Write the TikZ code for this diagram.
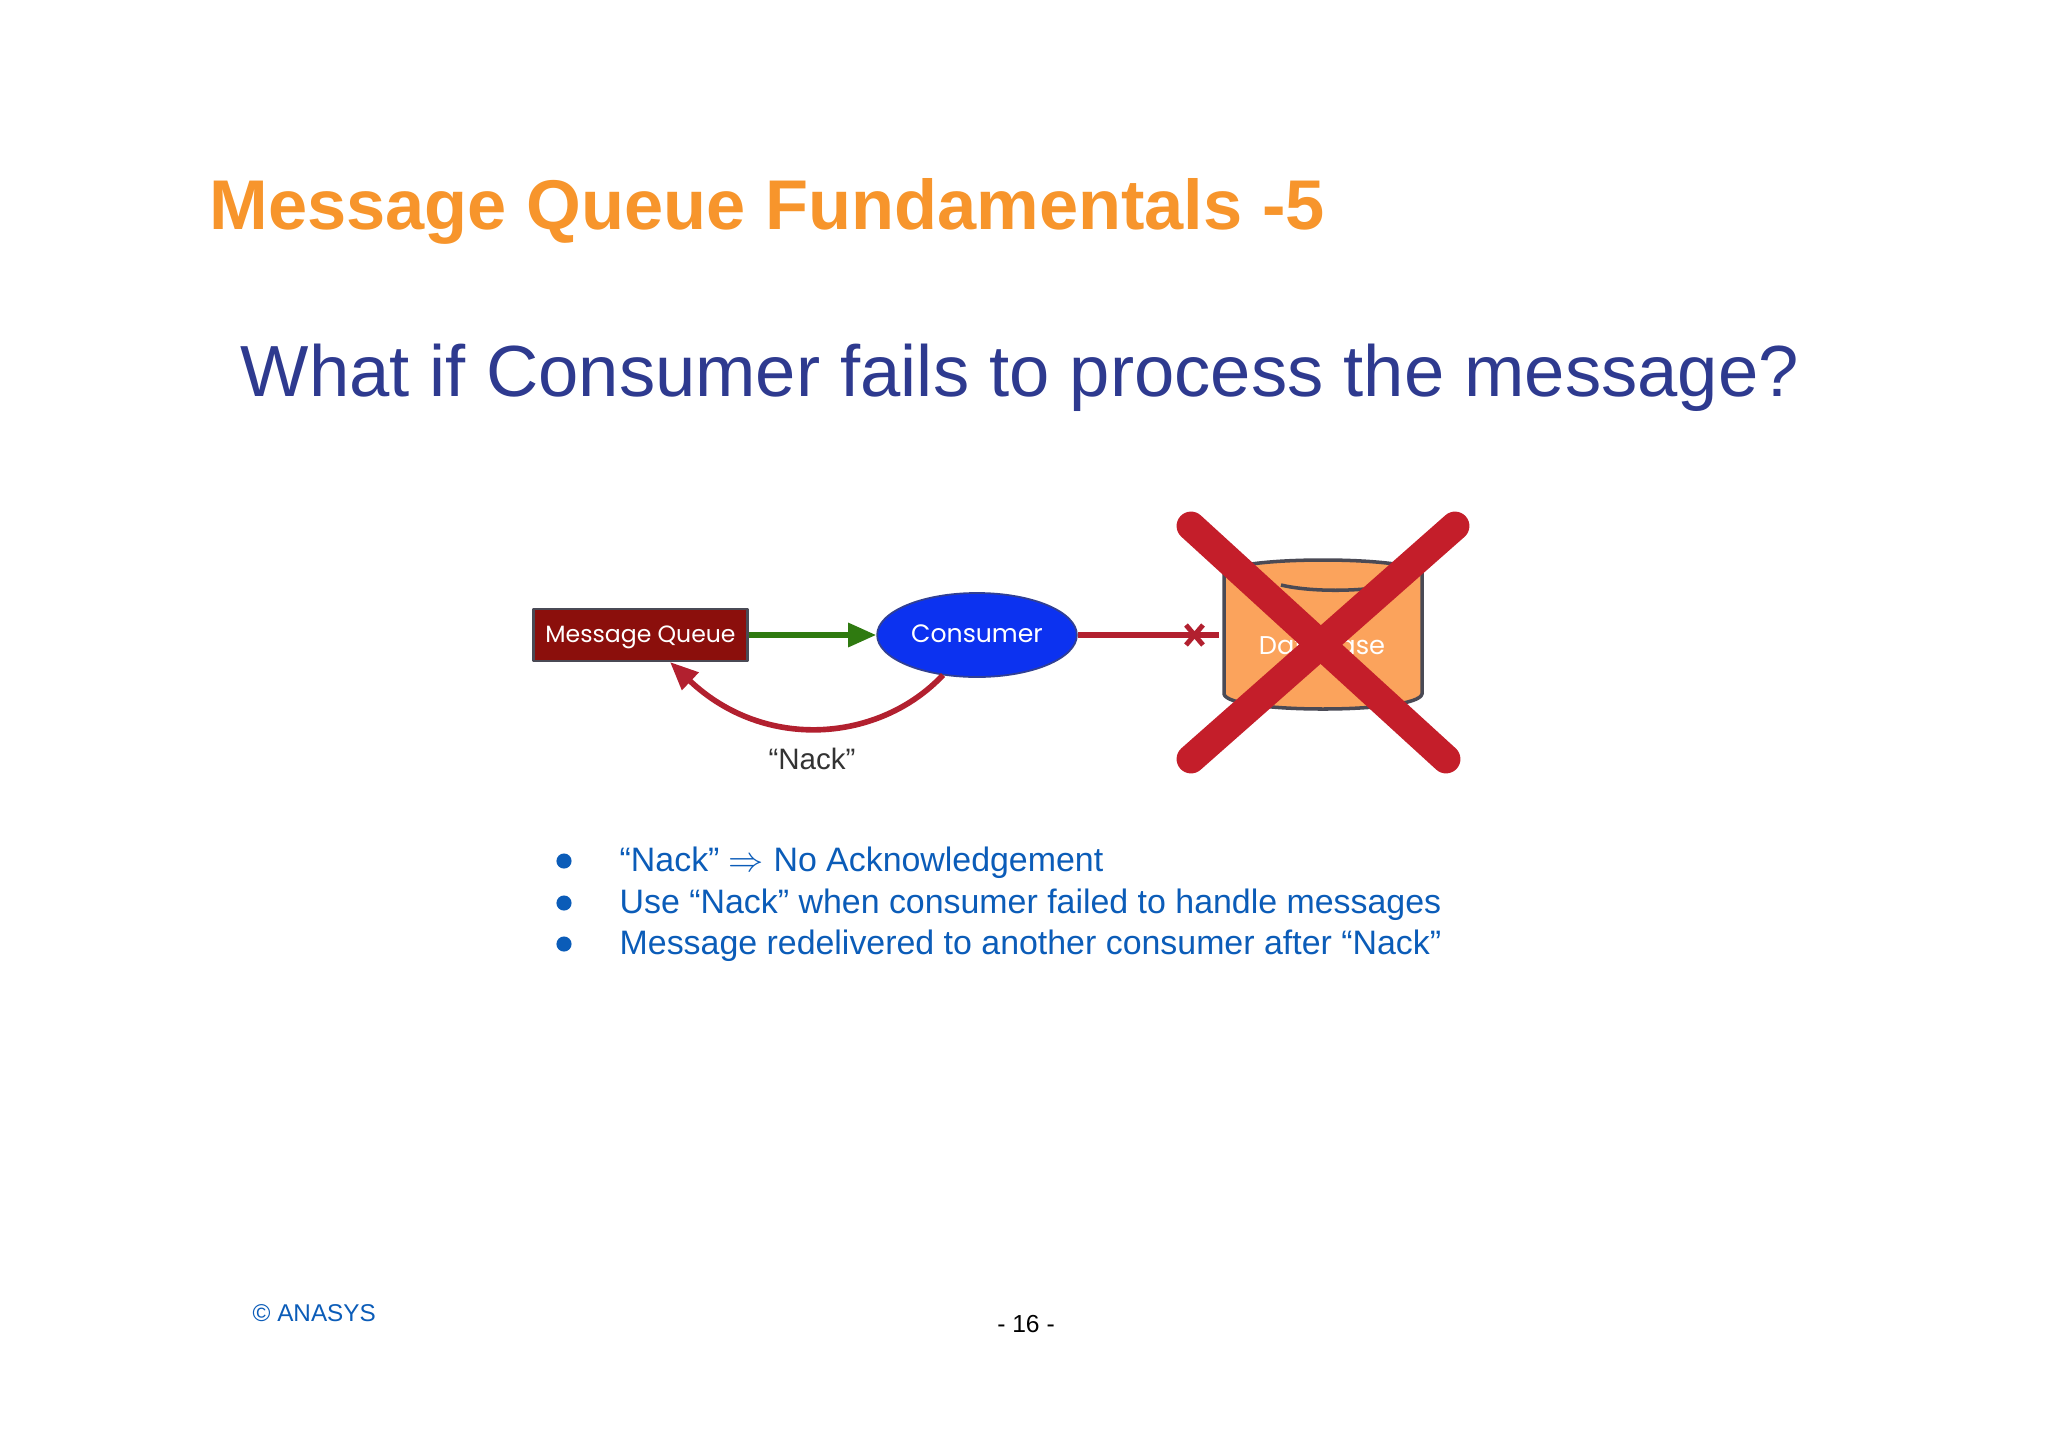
\documentclass[tikz,border=0pt]{standalone}
\usepackage{fontspec}
\setmainfont{Liberation Sans}
\newfontfamily\labelfont{Poppins}
\usetikzlibrary{calc,shapes.geometric,arrows.meta}

\definecolor{titleorange}{HTML}{F7952C}
\definecolor{headblue}{HTML}{2E3A8F}
\definecolor{bulletblue}{HTML}{0B5CB8}
\definecolor{queuered}{HTML}{8B0F0C}
\definecolor{consumerblue}{HTML}{0C32F0}
\definecolor{arrowgreen}{HTML}{2F7A10}
\definecolor{nackred}{HTML}{B2202F}
\definecolor{crossred}{HTML}{C41E2A}
\definecolor{dborange}{HTML}{FBA35C}
\definecolor{edgegrey}{HTML}{4A4A55}

\newcommand{\droptext}[1]{\raisebox{-2.2pt}[1ex][1ex]{#1}}

\tikzset{
  bulletline/.style={anchor=base west, inner sep=0pt, text=bulletblue, font=\fontsize{9.64}{11}\selectfont},
  bulletdot/.style={circle, fill=bulletblue, inner sep=0pt, minimum size=4.3pt},
  crossbar/.style={crossred, line width=8.2pt, line cap=round},
  flowarrow/.style={-{Triangle[length=8pt,width=6.6pt]}, line width=1.6pt},
}

\begin{document}
\begin{tikzpicture}[x=0.01cm, y=-0.01cm, line join=round]

  % Fix the page
  \useasboundingbox (0,0) rectangle (2048,1448);

  % Headings
  \node[anchor=base west, inner sep=0pt, text=titleorange, font=\fontsize{20.02}{22}\bfseries\selectfont] (title) at (209,229) {Message Queue Fundamentals -5};
  \node[anchor=base west, inner sep=0pt, text=headblue, font=\fontsize{20.6}{26}\selectfont] (question) at (240,396) {What if Consumer fails to process the message?};

  % Draw the queue and the consumer
  \node[draw=edgegrey, fill=queuered, line width=0.8pt, text=white, inner sep=0pt,
    minimum width=61pt, minimum height=14.8pt, font=\labelfont\fontsize{6.7}{8}\selectfont] (queue) at (640.5,635) {\droptext{Message Queue}};
  \node[ellipse, draw=edgegrey!60!consumerblue, fill=consumerblue, line width=0.5pt, inner sep=0pt, text=white,
    minimum width=56.8pt, minimum height=23.9pt, font=\labelfont\fontsize{7.15}{9}\selectfont] (consumer) at (977,635) {\droptext{Consumer}};

  % Draw the database cylinder
  \coordinate (db-nw) at (1224,572);
  \coordinate (db-ne) at (1422,572);
  \coordinate (db-se) at (1422,694);
  \coordinate (db-sw) at (1224,694);
  \draw[edgegrey, fill=dborange, line width=1pt]
    (db-nw) .. controls (1240,556) and (1406,556) .. (db-ne) -- (db-se)
    .. controls (1418,714) and (1228,714) .. (db-sw) -- cycle;
  \draw[edgegrey, line width=1pt] (1281,585) .. controls (1310,592) and (1360,592) .. (1392,585);
  \node[text=white, inner sep=0pt, font=\labelfont\fontsize{7.3}{9}\selectfont] (database) at (1322,645) {Database};

  % Draw the connectors
  \coordinate (block) at (1219,635);
  \coordinate (nack-end) at (670,662);
  \draw[flowarrow, arrowgreen] (queue) -- (consumer);
  \draw[nackred, line width=1.5pt] (consumer) -- (block);
  \draw[nackred, line width=1.4pt] (1186,625) -- (1203,645) (1203,625) -- (1186,645);
  \draw[flowarrow, nackred] (943,675) .. controls (880,742) and (765,752) .. (nack-end);
  \node[inner sep=0pt, text=black!80, font=\fontsize{8.4}{10}\selectfont] (nack) at (812,759) {“Nack”};

  % Strike out the database
  \draw[crossbar] (1191,526) -- (1446,759);
  \draw[crossbar] (1455,526) -- (1191,759);

  % Bullet list
  \foreach \ypos/\txt in {871/{“Nack” $\Rightarrow$ No Acknowledgement},
                          913/{Use “Nack” when consumer failed to handle messages},
                          954/{Message redelivered to another consumer after “Nack”}} {
    \node[bulletline] at (619,\ypos) {\txt};
    \node[bulletdot] at (564,\ypos-10) {};
  }

  % Footer
  \node[anchor=base west, inner sep=0pt, text=bulletblue, font=\fontsize{6.9}{9}\selectfont] (copyright) at (252,1321) {© ANASYS};
  \node[inner sep=0pt, font=\fontsize{7}{9}\selectfont] (pagenum) at (1026,1324) {- 16 -};

\end{tikzpicture}
\end{document}
